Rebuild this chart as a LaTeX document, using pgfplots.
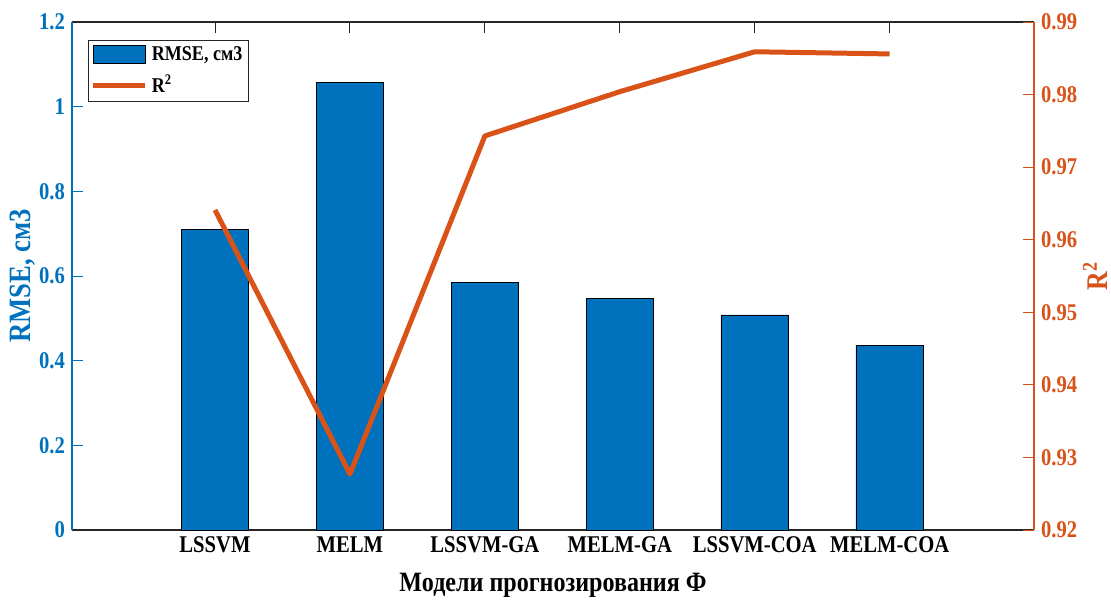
\documentclass[border=0pt]{standalone}
\usepackage{fontspec}
\setmainfont{Liberation Serif}[FakeStretch=0.86]
\usepackage{pgfplots}
\pgfplotsset{compat=1.18}
\definecolor{mblue}{RGB}{0,114,189}
\definecolor{morange}{RGB}{217,83,25}
\definecolor{mgray}{RGB}{38,38,38}
\pgfplotsset{
  barlegend/.style={legend image code/.code={\draw[##1] (0pt,-4.5pt) rectangle (26pt,4.5pt);}},
  linelegend/.style={legend image code/.code={\draw[##1] (0pt,0pt) -- (26pt,0pt);}},
}
\begin{document}
\begin{tikzpicture}[x=1pt,y=1pt]
\pgfplotsset{
  every axis/.append style={
    scale only axis, width=481pt, height=254pt,
    xmin=-0.06, xmax=7.07,
    /pgf/number format/assume math mode=true,
    font=\fontsize{12}{14}\selectfont\bfseries,
    tick align=inside,
    major tick length=5.5pt,
    tick style={line width=0.5pt},
    axis line style={line width=0.6pt},
  },
}
\begin{axis}[at={(0,0)}, anchor=south west,
  axis x line*=box, axis y line*=left,
  x axis line style={mgray},
  xtick={1,2,3,4,5,6},
  xticklabels={LSSVM,MELM,LSSVM-GA,MELM-GA,LSSVM-COA,MELM-COA},
  xtick style={mgray},
  xticklabel style={text=black},
  xlabel={Модели прогнозирования Ф},
  xlabel style={font=\fontsize{14}{16}\selectfont\bfseries, yshift=-3pt},
  ymin=0, ymax=1.2, ytick={0,0.2,0.4,0.6,0.8,1,1.2},
  y axis line style={mblue},
  ytick style={mblue},
  yticklabel style={text=mblue},
  ylabel={RMSE, см3},
  ylabel shift=-5pt,
  ylabel style={text=mblue, font=\fontsize{15.5}{17}\selectfont\bfseries},
  legend style={at={(0.017,0.965)}, anchor=north west, draw=mgray, line width=0.5pt,
    font=\fontsize{10.5}{12}\selectfont\bfseries, inner sep=1pt,
    row sep=2pt, cells={anchor=west}},
]
\addplot[fill=mblue, draw=black, line width=0.4pt, ybar, bar width=0.5, barlegend]
  coordinates {(1,0.710) (2,1.058) (3,0.585) (4,0.546) (5,0.508) (6,0.437)};
\addlegendentry{RMSE, см3}
\addlegendimage{morange, line width=2.5pt, linelegend}
\addlegendentry{R\textsuperscript{2}}
\end{axis}
\begin{axis}[at={(0,0)}, anchor=south west,
  axis x line=none, axis y line*=right,
  ymin=0.92, ymax=0.99,
  ytick={0.92,0.93,0.94,0.95,0.96,0.97,0.98,0.99},
  yticklabel style={text=morange, /pgf/number format/fixed,
    /pgf/number format/precision=2, /pgf/number format/fixed zerofill},
  y axis line style={morange},
  ytick style={morange},
  ylabel={R\textsuperscript{2}},
  ylabel shift=-4pt,
  ylabel style={text=morange, font=\fontsize{15}{17}\selectfont\bfseries},
]
\addplot[morange, line width=2.5pt, line join=round]
  coordinates {(1,0.9641) (2,0.9277) (3,0.9743) (4,0.9804) (5,0.9859) (6,0.9856)};
\end{axis}
\pgfresetboundingbox
\path (-36pt,-35.5pt) rectangle (519.5pt,265pt);
\end{tikzpicture}
\end{document}
